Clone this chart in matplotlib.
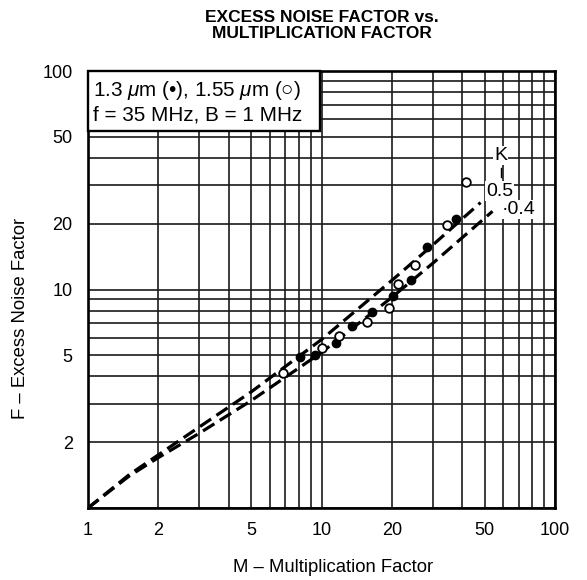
import matplotlib
matplotlib.use("Agg")
import matplotlib.pyplot as plt
from matplotlib.patches import Rectangle
from matplotlib.ticker import FixedLocator, NullFormatter, LogLocator

plt.rcParams['font.family'] = ['Liberation Sans', 'DejaVu Sans']
plt.rcParams['mathtext.fontset'] = 'custom'
plt.rcParams['mathtext.rm'] = 'Liberation Sans'
plt.rcParams['mathtext.it'] = 'Liberation Sans:italic'

# ---- data ----
m_open = [6.85, 10.0, 11.9, 15.6, 19.5, 21.3, 25.2, 34.6, 41.7]
f_open = [4.14, 5.38, 6.13, 7.09, 8.27, 10.6, 12.9, 19.7, 31.2]
m_fill = [8.08, 9.39, 11.5, 13.5, 16.5, 20.3, 24.2, 28.3, 37.6]
f_fill = [4.92, 5.02, 5.70, 6.79, 7.87, 9.37, 11.0, 15.6, 21.0]

m_k05 = [1.0, 1.5, 2.0, 3.0, 5.0, 10.0, 20.0, 30.0, 48.0]
f_k05 = [1.0, 1.42, 1.75, 2.35, 3.4, 5.9, 11.0, 16.0, 25.0]
m_k04 = [1.0, 1.5, 2.0, 3.0, 5.0, 10.0, 20.0, 30.0, 54.0]
f_k04 = [1.0, 1.40, 1.70, 2.2, 3.1, 5.15, 9.2, 13.2, 22.8]

x_ticks = [1, 2, 5, 10, 20, 50, 100]
y_ticks = [2, 5, 10, 20, 50, 100]

fig = plt.figure(figsize=(5.87, 5.80), dpi=100)
ax = fig.add_axes([88/587, 1 - 508/580, (555-88)/587, (508-71)/580])
ax.set_xscale('log')
ax.set_yscale('log')
ax.set_xlim(1, 100)
ax.set_ylim(1, 100)

ax.xaxis.set_major_locator(FixedLocator(x_ticks))
ax.yaxis.set_major_locator(FixedLocator(y_ticks))
ax.set_xticklabels([str(v) for v in x_ticks])
ax.set_yticklabels([str(v) for v in y_ticks])
ax.xaxis.set_minor_locator(LogLocator(base=10, subs=range(1, 10), numticks=20))
ax.yaxis.set_minor_locator(LogLocator(base=10, subs=range(1, 10), numticks=20))
ax.xaxis.set_minor_formatter(NullFormatter())
ax.yaxis.set_minor_formatter(NullFormatter())
ax.tick_params(which='both', length=0)
ax.tick_params(axis='x', pad=10, labelsize=13)
ax.tick_params(axis='y', pad=11, labelsize=13)
ax.grid(True, which='both', color='0.1', lw=1.2)
ax.set_axisbelow(True)
for s in ax.spines.values():
    s.set_linewidth(1.9)
    s.set_color('black')

dash = dict(color='black', lw=2.3, dashes=(4.2, 2.0), dash_capstyle='butt', zorder=3)
ax.plot(m_k05, f_k05, **dash)
ax.plot(m_k04, f_k04, **dash)

ax.plot(m_fill, f_fill, 'o', ms=6, mfc='black', mec='black', mew=1.0, zorder=4, clip_on=False)
ax.plot(m_open, f_open, 'o', ms=6.2, mfc='white', mec='black', mew=1.3, zorder=4, clip_on=False)

wb = dict(facecolor='white', edgecolor='none', pad=0.8)
ax.text(58.5, 41.0, 'K', fontsize=14, ha='center', va='center', bbox=wb, zorder=5)
ax.plot([59.0, 59.0], [32.8, 36.0], color='black', lw=1.0, zorder=5)
ax.text(58.0, 28.2, '0.5', fontsize=14, ha='center', va='center', bbox=wb, zorder=5)
ax.text(59.0, 23.3, '·0.4', fontsize=14, ha='left', va='center', bbox=wb, zorder=5)

# legend box
ax.add_patch(Rectangle((0, 1 - (131-71)/437), (320-88)/467, (131-71)/437,
                       transform=ax.transAxes, facecolor='white', edgecolor='black',
                       lw=1.7, zorder=6, clip_on=False))
ax.text((93-88)/467, 1 - (90-71)/437, r'1.3 $\mu$m (•), 1.55 $\mu$m (○)',
        transform=ax.transAxes, fontsize=14.9, ha='left', va='center', zorder=7)
ax.text((93-88)/467, 1 - (115-71)/437, 'f = 35 MHz, B = 1 MHz',
        transform=ax.transAxes, fontsize=14.9, ha='left', va='center', zorder=7)

ax.set_xlabel('M – Multiplication Factor', fontsize=13.3)
ax.xaxis.set_label_coords((333-88)/467, -(567-508)/437)
ax.xaxis.label.set_va('center')
ax.set_ylabel('F – Excess Noise Factor', fontsize=13.3)
ax.yaxis.set_label_coords(-(88-21)/467, (508-318)/437)
ax.yaxis.label.set_va('center')

fig.text(321.5/587, 1 - 25.5/580, 'EXCESS NOISE FACTOR vs.\nMULTIPLICATION FACTOR',
         ha='center', va='center', fontsize=12.5, fontweight='bold', linespacing=1.1)

fig.savefig('out.png', dpi=100)
